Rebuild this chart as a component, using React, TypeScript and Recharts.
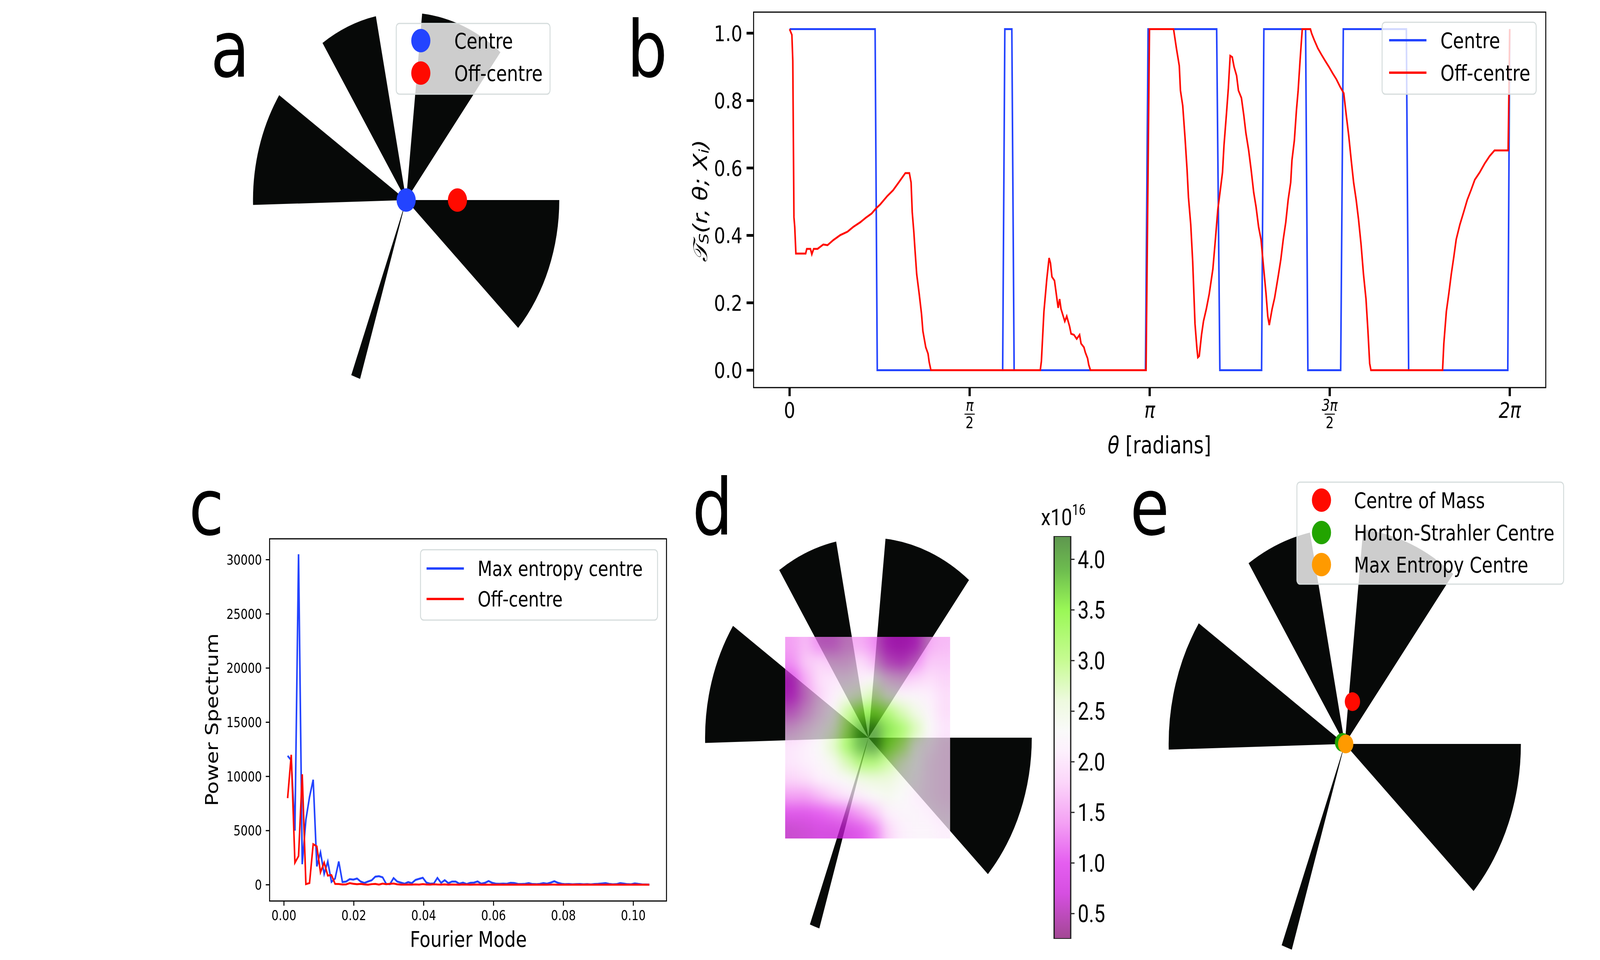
import React from 'react';
import { PieChart, Pie, Cell, ScatterChart, Scatter, XAxis, YAxis, LineChart, Line, BarChart, Bar } from 'recharts';

const FONT = "'DejaVu Sans', sans-serif";
const ROBOTO = "Roboto, 'DejaVu Sans', sans-serif";
const BLUE = '#2344ff';
const RED = '#ff0a00';
const GREEN = '#22a400';
const ORANGE = '#ff9a00';
const INK = '#070908';
const LEG_BORDER = '#d5dcdc';

// fan shape: angular spans in degrees, counter-clockwise from 3 o'clock (gap / wedge alternating)
const FAN_SPANS = [52, 32, 17.4, 21.7, 22.9, 35.5, 67.5, 3.5, 64.5, 43];
const FAN_SOLID = [false, true, false, true, false, true, false, true, false, true];

// panel a points (units of fan radius)
const A_CENTRE = [{ x: 0, y: 0 }];
const A_OFF = [{ x: 0.335, y: 0 }];

// panel e points (units of fan radius)
const E_COM = [{ x: 0.0435, y: 0.196 }];
const E_HS = [{ x: -0.0127, y: 0.0072 }];
const E_ME = [{ x: 0.0054, y: 0 }];

// panel b
const B_CENTRE_THETA = [0, 0.746, 0.765, 1.859, 1.878, 1.939, 1.959, 3.105, 3.128, 3.726, 3.754, 4.118, 4.138, 4.502, 4.522, 4.808, 4.831, 5.381, 5.401, 6.266, 6.283];
const B_CENTRE_VAL = [1.012, 1.012, 0, 0, 1.012, 1.012, 0, 0, 1.012, 1.012, 0, 0, 1.012, 1.012, 0, 0, 1.012, 1.012, 0, 0, 1.012];

const B_OFF_THETA = [
  0, 0.02, 0.028, 0.038, 0.045, 0.055, 0.14, 0.15, 0.182, 0.194, 0.21, 0.244, 0.294, 0.331, 0.381, 0.443, 0.505, 0.555,
  0.617, 0.667, 0.716, 0.754, 0.791, 0.853, 0.903, 0.952, 1.01, 1.045, 1.06, 1.07, 1.084, 1.094, 1.109, 1.131, 1.151,
  1.163, 1.188, 1.208, 1.218, 1.233, 2.187, 2.197, 2.219, 2.244, 2.264, 2.276, 2.289, 2.311, 2.321, 2.343, 2.356, 2.368,
  2.401, 2.418, 2.443, 2.456, 2.481, 2.505, 2.53, 2.543, 2.568, 2.58, 2.6, 2.61, 2.625, 3.11, 3.14, 3.35, 3.375, 3.4,
  3.41, 3.43, 3.45, 3.468, 3.48, 3.5, 3.517, 3.537, 3.554, 3.562, 3.574, 3.594, 3.611, 3.636, 3.661, 3.693, 3.715, 3.736,
  3.758, 3.777, 3.79, 3.812, 3.828, 3.834, 3.844, 3.862, 3.878, 3.9, 3.916, 3.942, 3.963, 3.981, 4.005, 4.027, 4.049,
  4.07, 4.092, 4.113, 4.135, 4.157, 4.172, 4.185, 4.21, 4.232, 4.264, 4.286, 4.307, 4.329, 4.35, 4.372, 4.383, 4.404,
  4.422, 4.437, 4.452, 4.464, 4.473, 4.544, 4.555, 4.577, 4.609, 4.641, 4.673, 4.706, 4.738, 4.771, 4.803, 4.835, 4.857,
  4.878, 4.9, 4.921, 4.943, 4.964, 4.986, 5.007, 5.029, 5.046, 5.061, 5.072, 5.697, 5.708, 5.73, 5.751, 5.773, 5.795,
  5.816, 5.848, 5.881, 5.913, 5.946, 5.978, 6.021, 6.064, 6.107, 6.15, 6.269, 6.283,
];
const B_OFF_VAL = [
  1.012, 0.995, 0.918, 0.454, 0.425, 0.346, 0.346, 0.36, 0.36, 0.344, 0.36, 0.36, 0.373, 0.371, 0.386, 0.401, 0.411, 0.425,
  0.439, 0.453, 0.465, 0.48, 0.492, 0.517, 0.534, 0.557, 0.585, 0.585, 0.557, 0.469, 0.41, 0.358, 0.285, 0.226, 0.167,
  0.116, 0.068, 0.049, 0.024, 0, 0, 0.027, 0.174, 0.27, 0.333, 0.318, 0.277, 0.266, 0.241, 0.185, 0.211, 0.182,
  0.145, 0.16, 0.13, 0.108, 0.105, 0.093, 0.105, 0.079, 0.068, 0.053, 0.035, 0.016, 0, 0, 1.012, 1.012, 0.955, 0.903,
  0.83, 0.785, 0.69, 0.594, 0.513, 0.432, 0.322, 0.138, 0.064, 0.038, 0.042, 0.105, 0.145, 0.182, 0.226, 0.3, 0.388, 0.476,
  0.535, 0.587, 0.667, 0.763, 0.837, 0.874, 0.933, 0.929, 0.9, 0.874, 0.83, 0.808, 0.756, 0.704, 0.653, 0.594, 0.528,
  0.484, 0.425, 0.388, 0.307, 0.226, 0.16, 0.134, 0.182, 0.215, 0.281, 0.329, 0.388, 0.439, 0.506, 0.557, 0.623, 0.682,
  0.771, 0.83, 0.91, 0.969, 1.012, 1.012, 0.999, 0.98, 0.955, 0.936, 0.918, 0.9, 0.881, 0.863, 0.841, 0.822, 0.756,
  0.697, 0.623, 0.557, 0.506, 0.447, 0.373, 0.285, 0.211, 0.116, 0.02, 0, 0, 0.079, 0.174, 0.226, 0.285, 0.336,
  0.388, 0.432, 0.469, 0.506, 0.535, 0.565, 0.587, 0.613, 0.635, 0.652, 0.652, 1.012,
];
const B_XTICKS = [0, Math.PI / 2, Math.PI, (3 * Math.PI) / 2, 2 * Math.PI];
const B_XTICK_NUM = ['0', 'π', 'π', '3π', '2π'];
const B_XTICK_DEN = ['', '2', '', '2', ''];
const B_YTICKS = [0, 0.2, 0.4, 0.6, 0.8, 1.0];

// panel c
const C_MODES = [
  0.00105, 0.00209, 0.00314, 0.00418, 0.00523, 0.00628, 0.00732, 0.00837, 0.00941, 0.01046,
  0.01151, 0.01255, 0.0136, 0.01464, 0.01569, 0.01674, 0.01778, 0.01883, 0.01987, 0.02092,
  0.02197, 0.02301, 0.02406, 0.0251, 0.02615, 0.0272, 0.02824, 0.02929, 0.03033, 0.03138,
  0.03243, 0.03347, 0.03452, 0.03556, 0.03661, 0.03766, 0.0387, 0.03975, 0.04079, 0.04184,
  0.04289, 0.04393, 0.04498, 0.04602, 0.04707, 0.04812, 0.04916, 0.05021, 0.05125, 0.0523,
  0.05335, 0.05439, 0.05544, 0.05648, 0.05753, 0.05858, 0.05962, 0.06067, 0.06171, 0.06276,
  0.06381, 0.06485, 0.0659, 0.06694, 0.06799, 0.06904, 0.07008, 0.07113, 0.07217, 0.07322,
  0.07427, 0.07531, 0.07636, 0.0774, 0.07845, 0.0795, 0.08054, 0.08159, 0.08263, 0.08368,
  0.08473, 0.08577, 0.08682, 0.08786, 0.08891, 0.08996, 0.091, 0.09205, 0.09309, 0.09414,
  0.09519, 0.09623, 0.09728, 0.09832, 0.09937, 0.10042, 0.10146, 0.10251, 0.10355, 0.1046,
];
const C_MAXENT = [
  11900, 11500, 5000, 30500, 1900, 6000, 8100, 9700, 1700, 3000,
  1000, 2150, 270, 580, 2150, 250, 300, 520, 480, 580,
  300, 170, 300, 420, 750, 790, 690, 80, 60, 620,
  300, 200, 100, 250, 150, 450, 550, 650, 200, 100,
  120, 640, 180, 430, 150, 300, 300, 100, 200, 70,
  180, 200, 310, 100, 180, 350, 180, 100, 90, 110,
  90, 180, 160, 80, 70, 90, 150, 70, 60, 80,
  150, 100, 200, 330, 180, 90, 60, 70, 50, 60,
  70, 50, 60, 40, 70, 90, 120, 150, 80, 50,
  60, 150, 110, 60, 50, 130, 80, 40, 30, 20,
];
const C_OFF = [
  8000, 12000, 2040, 2650, 10200, 60, 160, 3750, 3550, 1150,
  2050, 850, 900, 80, 70, 30, 40, 150, 90, 60,
  80, 40, 10, 60, 80, 20, 110, 60, 90, 120,
  50, 20, 15, 30, 20, 40, 20, 60, 30, 20,
  50, 30, 20, 40, 10, 30, 20, 10, 30, 20,
  10, 20, 30, 10, 20, 10, 20, 10, 15, 10,
  10, 15, 10, 20, 10, 10, 15, 10, 20, 10,
  15, 10, 20, 15, 10, 10, 15, 10, 10, 20,
  10, 10, 15, 10, 10, 15, 10, 10, 15, 10,
  10, 15, 10, 10, 10, 15, 10, 10, 10, 10,
];
const C_XTICKS = [0, 0.02, 0.04, 0.06, 0.08, 0.1];
const C_YTICKS = [0, 5000, 10000, 15000, 20000, 25000, 30000];

// panel d heat map values (x10^16), rows top -> bottom
const HEAT_ROWS = [
  [1.4, 1.6, 1.3, 1.3, 1.5, 1.5, 1.3, 0.9, 0.8, 0.95, 1.5, 1.6],
  [1.3, 1.7, 1.8, 1.7, 1.7, 1.9, 1.6, 1.2, 1.1, 1.3, 1.7, 1.7],
  [0.9, 1.5, 1.9, 2.0, 2.0, 2.1, 2.3, 1.8, 1.7, 1.8, 1.9, 1.8],
  [1.0, 1.4, 1.8, 2.1, 2.4, 2.6, 2.8, 2.4, 2.2, 2.2, 2.1, 1.9],
  [1.3, 1.6, 1.9, 2.2, 2.9, 3.4, 3.5, 3.2, 2.8, 2.5, 2.2, 1.9],
  [1.7, 1.9, 2.1, 2.5, 3.1, 3.9, 4.1, 3.6, 3.3, 2.8, 2.3, 2.0],
  [2.0, 2.1, 2.3, 2.7, 3.3, 3.9, 4.1, 3.4, 3.0, 2.4, 2.1, 1.9],
  [2.0, 2.1, 2.2, 2.4, 2.8, 3.2, 3.2, 2.9, 2.6, 2.3, 2.0, 1.9],
  [1.8, 1.9, 2.1, 2.2, 2.3, 2.5, 2.6, 2.6, 2.4, 2.2, 2.0, 1.9],
  [1.4, 1.4, 1.6, 1.8, 2.0, 2.1, 2.3, 2.4, 2.3, 2.1, 2.0, 1.9],
  [0.9, 0.9, 1.0, 1.1, 1.2, 1.4, 1.7, 2.1, 2.2, 2.2, 2.1, 2.0],
  [0.6, 0.65, 0.7, 0.7, 0.75, 0.9, 1.2, 1.8, 2.1, 2.2, 2.2, 2.1],
];
const CBAR_MIN = 0.25;
const CBAR_MAX = 4.23;
const CBAR_TICKS = [0.5, 1.0, 1.5, 2.0, 2.5, 3.0, 3.5, 4.0];
const CMAP_V = [0.25, 0.7, 1.0, 1.4, 1.8, 2.1, 2.3, 2.6, 3.0, 3.5, 3.9, 4.23];
const CMAP_RGB = [
  [130, 10, 110], [200, 20, 215], [220, 40, 235], [240, 130, 240], [250, 200, 248], [252, 235, 252],
  [248, 248, 248], [232, 248, 212], [180, 250, 110], [120, 245, 30], [60, 165, 20], [40, 115, 20],
];
const HEAT_ALPHA = 0.75;

function cmap(v: number): string {
  if (v <= CMAP_V[0]) return `rgb(${CMAP_RGB[0].join(',')})`;
  for (let i = 1; i < CMAP_V.length; i++) {
    if (v <= CMAP_V[i]) {
      const t = (v - CMAP_V[i - 1]) / (CMAP_V[i] - CMAP_V[i - 1]);
      const a = CMAP_RGB[i - 1], b = CMAP_RGB[i];
      return `rgb(${a.map((c, k) => Math.round(c + (b[k] - c) * t)).join(',')})`;
    }
  }
  return `rgb(${CMAP_RGB[CMAP_RGB.length - 1].join(',')})`;
}

function Fan({ left, top, width, height, cx, cy, r }: any) {
  const data = FAN_SPANS.map((s, i) => ({ span: s, solid: FAN_SOLID[i] }));
  return (
    <div style={{ position: 'absolute', left, top, width, height }}>
      <PieChart width={width} height={height} margin={{ top: 0, right: 0, bottom: 0, left: 0 }}>
        <Pie data={data} dataKey="span" cx={cx} cy={cy} innerRadius={0} outerRadius={r} startAngle={0} endAngle={360}
          paddingAngle={0} stroke="none" isAnimationActive={false}>
          {data.map((d, i) => <Cell key={i} fill={d.solid ? INK : 'rgba(0,0,0,0)'} stroke="none" />)}
        </Pie>
      </PieChart>
    </div>
  );
}

function Dots({ left, top, width, height, cx, cy, r, series }: any) {
  return (
    <div style={{ position: 'absolute', left, top, width, height }}>
      <ScatterChart width={width} height={height}
        margin={{ left: cx - r, top: cy - r, right: width - cx - r, bottom: height - cy - r }}>
        <XAxis type="number" dataKey="x" domain={[-1, 1]} hide />
        <YAxis type="number" dataKey="y" domain={[-1, 1]} hide />
        {series.map((s: any, i: number) => (
          <Scatter key={i} data={s.data} isAnimationActive={false}
            shape={(p: any) => <circle cx={p.cx} cy={p.cy} r={s.size} fill={s.color} />} />
        ))}
      </ScatterChart>
    </div>
  );
}

function PiTick(props: any) {
  const { x, y, payload } = props;
  const i = B_XTICKS.findIndex((t) => Math.abs(t - payload.value) < 1e-6);
  if (i < 0) return null;
  const num = B_XTICK_NUM[i];
  const den = B_XTICK_DEN[i];
  if (!den) {
    return (
      <text x={x} y={y + 55} textAnchor="middle" fontSize={56} fontFamily={FONT} fill="#000"
        fontStyle={num === '0' ? 'normal' : 'italic'}>{num}</text>
    );
  }
  return (
    <g>
      <text x={x} y={y + 37} textAnchor="middle" fontSize={40} fontFamily={FONT} fontStyle="italic" fill="#000">{num}</text>
      <line x1={x - 16} x2={x + 16} y1={y + 46} y2={y + 46} stroke="#000" strokeWidth={2.5} />
      <text x={x} y={y + 82} textAnchor="middle" fontSize={40} fontFamily={FONT} fill="#000">{den}</text>
    </g>
  );
}

function PanelB() {
  const centre = B_CENTRE_THETA.map((t, i) => ({ x: t, y: B_CENTRE_VAL[i] }));
  const off = B_OFF_THETA.map((t, i) => ({ x: t, y: B_OFF_VAL[i] }));
  return (
    <div style={{ position: 'absolute', left: 1950, top: 0, width: 3065, height: 1200 }}>
      <LineChart width={3065} height={1200} margin={{ left: 262, right: 170, top: 31, bottom: 88 }}>
        <XAxis type="number" dataKey="x" domain={[-0.05 * 2 * Math.PI, 1.05 * 2 * Math.PI]} ticks={B_XTICKS}
          interval={0} tick={PiTick} tickSize={22} tickMargin={0} tickLine={{ stroke: '#000', strokeWidth: 7 }}
          axisLine={false} height={120} allowDataOverflow />
        <YAxis type="number" domain={[-0.0516, 1.0625]} ticks={B_YTICKS} interval={0} width={150}
          tickFormatter={(v: number) => v.toFixed(1)} tick={{ fontSize: 56, fontFamily: FONT, fill: '#000' }}
          tickSize={22} tickMargin={13} tickLine={{ stroke: '#000', strokeWidth: 7 }} axisLine={false} allowDataOverflow />
        <Line data={centre} dataKey="y" type="linear" stroke={BLUE} strokeWidth={5} dot={false} isAnimationActive={false} />
        <Line data={off} dataKey="y" type="linear" stroke={RED} strokeWidth={5} dot={false} isAnimationActive={false} />
      </LineChart>
    </div>
  );
}

function PanelC() {
  const data = C_MODES.map((m, i) => ({ mode: m, maxEnt: C_MAXENT[i], off: C_OFF[i] }));
  return (
    <div style={{ position: 'absolute', left: 500, top: 1200, width: 1700, height: 1257 }}>
      <LineChart width={1700} height={1257} data={data} margin={{ left: 225, right: 111, top: 179, bottom: 51 }}>
        <XAxis type="number" dataKey="mode" domain={[-0.00411, 0.1095]} ticks={C_XTICKS} interval={0}
          tickFormatter={(v: number) => v.toFixed(2)} tick={{ fontSize: 35, fontFamily: FONT, fill: '#000' }}
          tickSize={12} tickMargin={12} tickLine={{ stroke: '#000', strokeWidth: 3 }} axisLine={false} height={100}
          allowDataOverflow />
        <YAxis type="number" domain={[-1495, 31930]} ticks={C_YTICKS} interval={0} width={120}
          tick={{ fontSize: 35, fontFamily: FONT, fill: '#000' }} tickSize={12} tickMargin={12}
          tickLine={{ stroke: '#000', strokeWidth: 3 }} axisLine={false} allowDataOverflow />
        <Line dataKey="maxEnt" type="linear" stroke={BLUE} strokeWidth={5} dot={false} isAnimationActive={false} />
        <Line dataKey="off" type="linear" stroke={RED} strokeWidth={5} dot={false} isAnimationActive={false} />
      </LineChart>
    </div>
  );
}

function Heat() {
  const W = 517, H = 516;
  const n = HEAT_ROWS.length;
  const cw = W / n, ch = H / n;
  const cells: any[] = [];
  HEAT_ROWS.forEach((row, r) => row.forEach((v, c) => cells.push({ c, r, v })));
  return (
    <div className="heatwrap" style={{ position: 'absolute', left: 2461, top: 1630, width: W, height: H, overflow: 'hidden', opacity: HEAT_ALPHA }}>
      <ScatterChart width={W} height={H} margin={{ top: 0, right: 0, bottom: 0, left: 0 }}>
        <XAxis type="number" dataKey="c" domain={[-0.5, n - 0.5]} hide />
        <YAxis type="number" dataKey="r" domain={[-0.5, n - 0.5]} reversed hide />
        <Scatter data={cells} isAnimationActive={false}
          shape={(p: any) => (
            <rect x={p.cx - cw / 2 - 0.6} y={p.cy - ch / 2 - 0.6} width={cw + 1.2} height={ch + 1.2} fill={cmap(p.payload.v)} />
          )} />
      </ScatterChart>
    </div>
  );
}

function ColorBar() {
  const data = [{ k: 'cb', span: [CBAR_MIN, CBAR_MAX] }];
  return (
    <div style={{ position: 'absolute', left: 3250, top: 1330, width: 320, height: 1110 }}>
      <BarChart width={320} height={1110} data={data} margin={{ left: 54, top: 42, right: 64, bottom: 37 }}
        barCategoryGap={0} barGap={0}>
        <XAxis dataKey="k" hide />
        <YAxis type="number" orientation="right" width={150} domain={[CBAR_MIN, CBAR_MAX]} ticks={CBAR_TICKS}
          interval={0} tickFormatter={(v: number) => v.toFixed(1)}
          tick={{ fontSize: 62, fontFamily: ROBOTO, fill: '#000' }} tickSize={12} tickMargin={10}
          tickLine={{ stroke: '#222', strokeWidth: 3 }} axisLine={false} allowDataOverflow />
        <Bar dataKey="span" fill="url(#cbarGrad)" fillOpacity={HEAT_ALPHA} stroke="#222" strokeWidth={4}
          isAnimationActive={false} />
      </BarChart>
    </div>
  );
}

function LegendBox({ x, y, w, h }: any) {
  return <rect x={x} y={y} width={w} height={h} rx={10} ry={10} fill="#fff" fillOpacity={0.8} stroke={LEG_BORDER} strokeWidth={3} />;
}

function Overlay() {
  const stops = CMAP_V.map((v, i) => (
    <stop key={i} offset={(CBAR_MAX - v) / (CBAR_MAX - CBAR_MIN)} stopColor={`rgb(${CMAP_RGB[i].join(',')})`} />
  )).reverse();
  const letter = { fontSize: 200, fontFamily: FONT, fill: '#000' };
  return (
    <svg width={5015} height={2457} style={{ position: 'absolute', left: 0, top: 0, pointerEvents: 'none' }}>
      <defs>
        <filter id="heatBlur" x="-10%" y="-10%" width="120%" height="120%" colorInterpolationFilters="sRGB">
          <feGaussianBlur stdDeviation="17" />
          <feComponentTransfer>
            <feFuncA type="linear" slope="40" intercept="0" />
          </feComponentTransfer>
        </filter>
        <linearGradient id="cbarGrad" x1="0" y1="0" x2="0" y2="1">{stops}</linearGradient>
      </defs>

      <text x={660} y={196} {...letter}>a</text>
      <text x={1965} y={196} {...letter}>b</text>
      <text x={592} y={1368} {...letter}>c</text>
      <text x={2170} y={1368} {...letter}>d</text>
      <text x={3542} y={1368} {...letter}>e</text>

      <LegendBox x={1242} y={60} w={482} h={181} />
      <circle cx={1319} cy={104} r={30} fill={BLUE} />
      <circle cx={1319} cy={187} r={30} fill={RED} />
      <text x={1424} y={124} fontSize={55} fontFamily={FONT}>Centre</text>
      <text x={1424} y={207} fontSize={55} fontFamily={FONT}>Off-centre</text>

      <rect x={2362} y={31} width={2483} height={961} fill="none" stroke="#000" strokeWidth={3} />
      <text x={3634} y={1160} textAnchor="middle" fontSize={60} fontFamily={FONT}>
        <tspan fontStyle="italic">θ</tspan>  [radians]
      </text>
      <text x={2194} y={514} textAnchor="middle" dominantBaseline="central" fontSize={62} fontFamily={FONT}
        transform="rotate(-90, 2194, 514)" fontStyle="italic">
        <tspan>𝒯</tspan><tspan fontSize={42} dy={12}>S</tspan><tspan dy={-12}>(r, θ; X</tspan><tspan fontSize={42} dy={12}>i</tspan><tspan dy={-12}>)</tspan>
      </text>
      <LegendBox x={4332} y={57} w={483} h={184} />
      <line x1={4354} x2={4471} y1={103} y2={103} stroke={BLUE} strokeWidth={6} />
      <line x1={4354} x2={4471} y1={186} y2={186} stroke={RED} strokeWidth={6} />
      <text x={4515} y={123} fontSize={56} fontFamily={FONT}>Centre</text>
      <text x={4515} y={206} fontSize={56} fontFamily={FONT}>Off-centre</text>

      <rect x={845} y={1379} width={1244} height={927} fill="none" stroke="#000" strokeWidth={3} />
      <text x={665} y={1842} textAnchor="middle" dominantBaseline="central" fontSize={54} fontFamily={FONT}
        transform="rotate(-90, 665, 1842)">Power Spectrum</text>
      <text x={1468} y={2423} textAnchor="middle" fontSize={56} fontFamily={FONT}>Fourier Mode</text>
      <LegendBox x={1318} y={1407} w={743} h={180} />
      <line x1={1337} x2={1454} y1={1455} y2={1455} stroke={BLUE} strokeWidth={6} />
      <line x1={1337} x2={1454} y1={1533} y2={1533} stroke={RED} strokeWidth={6} />
      <text x={1497} y={1474} fontSize={53} fontFamily={FONT}>Max entropy centre</text>
      <text x={1497} y={1552} fontSize={53} fontFamily={FONT}>Off-centre</text>

      <text x={3263} y={1344} fontSize={60} fontFamily={ROBOTO}>x10<tspan fontSize={38} dy={-26}>16</tspan></text>

      <LegendBox x={4065} y={1234} w={836} h={261} />
      <circle cx={4142} cy={1280} r={30} fill={RED} />
      <circle cx={4142} cy={1363} r={30} fill={GREEN} />
      <circle cx={4142} cy={1445} r={30} fill={ORANGE} />
      <text x={4244} y={1300} fontSize={55} fontFamily={FONT}>Centre of Mass</text>
      <text x={4244} y={1383} fontSize={55} fontFamily={FONT}>Horton-Strahler Centre</text>
      <text x={4244} y={1465} fontSize={55} fontFamily={FONT}>Max Entropy Centre</text>
    </svg>
  );
}

export default function App() {
  const vw = typeof window !== 'undefined' && window.innerWidth ? window.innerWidth : 5015;
  const vh = typeof window !== 'undefined' && window.innerHeight ? window.innerHeight : 2457;
  const sx = Math.min(1, vw / 5015);
  const sy = Math.min(1, vh / 2457);
  return (
    <div style={{ position: 'absolute', left: 0, top: 0, width: 5015 * sx, height: 2457 * sy, overflow: 'hidden', background: '#fff' }}>
      <div style={{ position: 'absolute', left: 0, top: 0, width: 5015, height: 2457, transform: `scale(${sx}, ${sy})`, transformOrigin: '0 0', background: '#fff' }}>
        <style>{`.heatwrap svg.recharts-surface{filter:url(#heatBlur);}`}</style>
        {/* panel a */}
        <Fan left={0} top={0} width={2000} height={1100} cx={1273} cy={512} r={480} />
        <Dots left={0} top={0} width={2000} height={1100} cx={1273} cy={512} r={480}
          series={[{ data: A_CENTRE, color: BLUE, size: 30 }, { data: A_OFF, color: RED, size: 30 }]} />
        {/* panel b */}
        <PanelB />
        {/* panel c */}
        <PanelC />
        {/* panel d */}
        <Fan left={2100} top={1200} width={1500} height={1257} cx={622} cy={688} r={512} />
        <Heat />
        <ColorBar />
        {/* panel e */}
        <Fan left={3500} top={1200} width={1515} height={1257} cx={715} cy={704} r={552} />
        <Dots left={3500} top={1200} width={1515} height={1257} cx={715} cy={704} r={552}
          series={[{ data: E_COM, color: RED, size: 24 }, { data: E_HS, color: GREEN, size: 24 }, { data: E_ME, color: ORANGE, size: 24 }]} />
        <Overlay />
      </div>
    </div>
  );
}
